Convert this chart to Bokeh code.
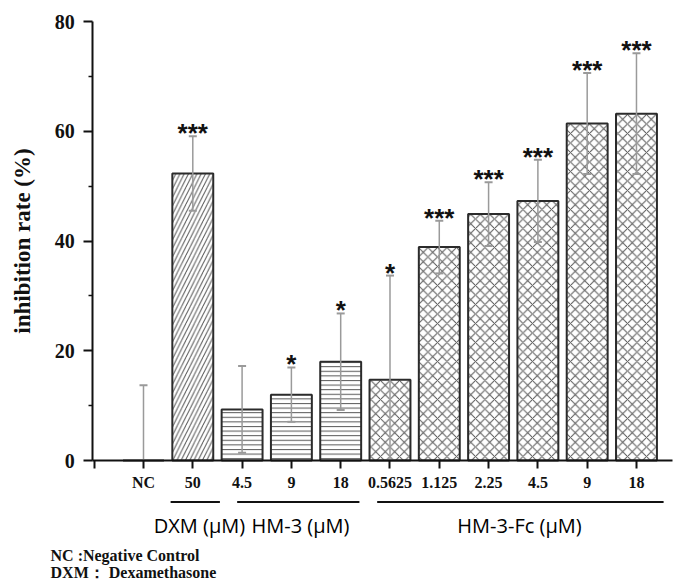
from bokeh.plotting import figure
from bokeh.models import Range1d, FixedTicker, ColumnDataSource, Whisker, TeeHead
from bokeh.embed import file_html
from bokeh.resources import INLINE
from bokeh.core.properties import value

# ---------------- data ----------------
categories = ["NC", "50", "4.5", "9", "18", "0.5625", "1.125", "2.25", "4.5", "9", "18"]
groups = ["NC", "DXM", "HM-3", "HM-3", "HM-3",
          "HM-3-Fc", "HM-3-Fc", "HM-3-Fc", "HM-3-Fc", "HM-3-Fc", "HM-3-Fc"]
means = [0.0, 52.3, 9.3, 12.0, 18.0, 14.7, 38.9, 44.9, 47.3, 61.4, 63.2]
sds = [13.7, 6.8, 7.9, 4.95, 8.8, 19.0, 4.8, 5.8, 7.5, 9.2, 11.0]
stars = ["", "***", "", "*", "*", "*", "***", "***", "***", "***", "***"]
y_ticks = [0, 20, 40, 60, 80]
y_minor_ticks = [10, 30, 50, 70]
group_titles = ["DXM (\u03bcM)", "HM-3 (\u03bcM)", "HM-3-Fc (\u03bcM)"]
footnotes = ["NC :Negative Control", "DXM\uff1a Dexamethasone"]

# ---------------- styles / layout ----------------
SERIF = "Liberation Serif"
SANS = "Open Sans"
hatch_of = {"NC": " ", "DXM": "/", "HM-3": "-", "HM-3-Fc": "x"}
hatch_scale_of = {"NC": 8, "DXM": 8.5, "HM-3": 4.6, "HM-3-Fc": 9.5}

x = list(range(1, len(categories) + 1))
upper = [m + s for m, s in zip(means, sds)]
lower = [max(0.0, m - s) for m, s in zip(means, sds)]

src = ColumnDataSource(dict(
    x=x, top=means, upper=upper, lower=lower, stars=stars,
    hatch=[hatch_of[g] for g in groups],
    hscale=[hatch_scale_of[g] for g in groups],
))

p = figure(width=677, height=581, output_backend="svg", toolbar_location=None,
           x_range=Range1d(-1.9006, 11.832), y_range=Range1d(-22.05, 83.83),
           min_border=0, min_border_left=0, min_border_right=0,
           min_border_top=0, min_border_bottom=0)
p.outline_line_color = None
p.xgrid.grid_line_color = None
p.ygrid.grid_line_color = None
p.background_fill_color = "white"
p.border_fill_color = "white"

# bars
p.vbar(x="x", top="top", bottom=0, width=0.83, source=src,
       fill_color="white", line_color="#2b2b2b", line_width=2,
       hatch_pattern="hatch", hatch_scale="hscale", hatch_color="#555555",
       hatch_weight=1)

# error bars
w = Whisker(source=src, base="x", upper="upper", lower="lower",
            line_color="#9a9a9a", line_width=1.5, level="glyph",
            upper_head=TeeHead(size=8, line_color="#9a9a9a", line_width=2),
            lower_head=TeeHead(size=8, line_color="#9a9a9a", line_width=2))
p.add_layout(w)

# significance stars
p.text(x="x", y="upper", text="stars", source=src, text_align="center",
       text_baseline="alphabetic", text_font=value("Liberation Sans"),
       text_font_style="bold", text_font_size="26px", text_color="#111111",
       y_offset=-3)

# axes
xa = p.xaxis[0]
xa.fixed_location = 0
xa.bounds = (-0.03, 11.73)
xa.ticker = FixedTicker(ticks=[0] + x, minor_ticks=[])
xa.major_label_overrides = {0: ""} | {xi: c for xi, c in zip(x, categories)}
xa.axis_line_width = 2
xa.axis_line_color = "#111111"
xa.major_tick_line_width = 2
xa.major_tick_line_color = "#111111"
xa.major_tick_out = 8
xa.major_tick_in = 0
xa.minor_tick_line_color = None
xa.major_label_standoff = 5
xa.major_label_text_font = SERIF
xa.major_label_text_font_style = "bold"
xa.major_label_text_font_size = "16px"
xa.major_label_text_color = "#111111"

ya = p.yaxis[0]
ya.fixed_location = -0.03
ya.bounds = (0, 80)
ya.ticker = FixedTicker(ticks=y_ticks, minor_ticks=y_minor_ticks)
ya.axis_line_width = 2
ya.axis_line_color = "#111111"
ya.major_tick_line_width = 2
ya.major_tick_line_color = "#111111"
ya.major_tick_out = 9
ya.major_tick_in = 0
ya.minor_tick_line_width = 1.5
ya.minor_tick_line_color = "#111111"
ya.minor_tick_out = 4
ya.minor_tick_in = 0
ya.major_label_standoff = 9
ya.major_label_text_font = SERIF
ya.major_label_text_font_style = "bold"
ya.major_label_text_font_size = "20px"
ya.major_label_text_color = "#111111"
ya.axis_label = "inhibition rate (%)"
ya.axis_label_text_font = SERIF
ya.axis_label_text_font_style = "bold"
ya.axis_label_text_font_size = "23px"
ya.axis_label_text_color = "#111111"
ya.axis_label_standoff = 17

# group underlines and titles (layout positions)
group_line_x0 = [1.55, 2.90, 5.74]
group_line_x1 = [2.55, 5.38, 11.55]
group_line_y = -7.56
group_title_x = [2.135, 4.185, 8.627]
group_title_y = -11.84
p.segment(x0=group_line_x0, x1=group_line_x1, y0=group_line_y, y1=group_line_y,
          line_color="#111111", line_width=2)
p.text(x=group_title_x, y=group_title_y, text=group_titles, text_align="center",
       text_baseline="alphabetic", text_font=value(SANS), text_font_size="20px",
       text_color="#000000")

# footnotes
p.text(x=[-0.886, -0.886], y=[-17.4, -20.35], text=footnotes, text_align="left",
       text_baseline="alphabetic", text_font=value(SERIF), text_font_style="bold",
       text_font_size="16px", text_color="#111111")

open("out.html", "w").write(file_html(p, INLINE))
